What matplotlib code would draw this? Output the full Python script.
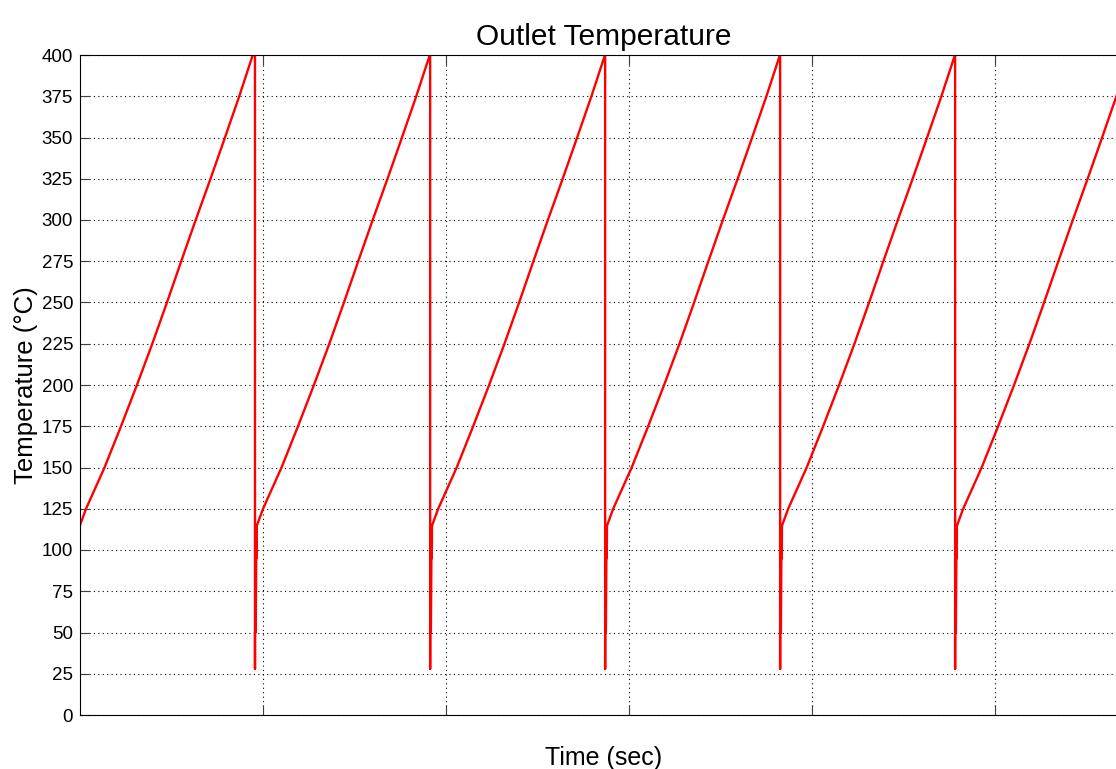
import matplotlib
matplotlib.use('Agg')
import matplotlib.pyplot as plt

# times (arbitrary units, 1 unit = one x grid step) where the outlet temperature is reset
drop_times = [0.956, 1.913, 2.869, 3.825, 4.781]

# rising part of one cycle: time since restart, temperature (deg C)
rise_dt = [0.0, 0.033, 0.134, 0.224, 0.311, 0.395, 0.475, 0.553,
           0.632, 0.713, 0.792, 0.870, 0.944]
rise_temp = [115, 125, 150, 175, 200, 225, 250, 275, 300, 325, 350, 375, 400]

# short transient right after each reset
reset_dt = [0.0, 0.0, 0.0, 0.004, 0.008, 0.009, 0.010, 0.011]
reset_temp = [400, 28, 50, 50, 115, 95, 115, 115]

# build the whole trace
t = list(rise_dt)
temp = list(rise_temp)
for td in drop_times:
    t += [td + d for d in reset_dt]
    temp += reset_temp
    start = td + reset_dt[-1]
    for d, v in zip(rise_dt[1:], rise_temp[1:]):
        t.append(start + d)
        temp.append(v)

plt.rcParams['font.family'] = ['Liberation Sans', 'DejaVu Sans']

fig = plt.figure(figsize=(11.16, 7.69), dpi=100)
ax = fig.add_axes([80 / 1116, 54 / 769, 1047 / 1116, 660 / 769])

ax.plot(t, temp, color='red', linewidth=1.7)

ax.set_xlim(0, 5.72)
ax.set_ylim(0, 400)
ax.set_yticks(range(0, 401, 25))
ax.set_xticks([1, 2, 3, 4, 5])
ax.set_xticklabels([])
ax.tick_params(axis='both', direction='in', length=7, width=0.8, labelsize=13.5,
               top=True, right=True, color='#404040', pad=5)
ax.grid(True, color='black', linestyle=(0, (1, 3)), linewidth=0.8)

for s in ax.spines.values():
    s.set_linewidth(0.8)

ax.set_title('Outlet Temperature', fontsize=21.5, pad=7)
ax.set_ylabel('Temperature (°C)', fontsize=18.5, labelpad=2.5)
ax.set_xlabel('Time (sec)', fontsize=18, labelpad=17)

fig.savefig('out.png', dpi=100)
